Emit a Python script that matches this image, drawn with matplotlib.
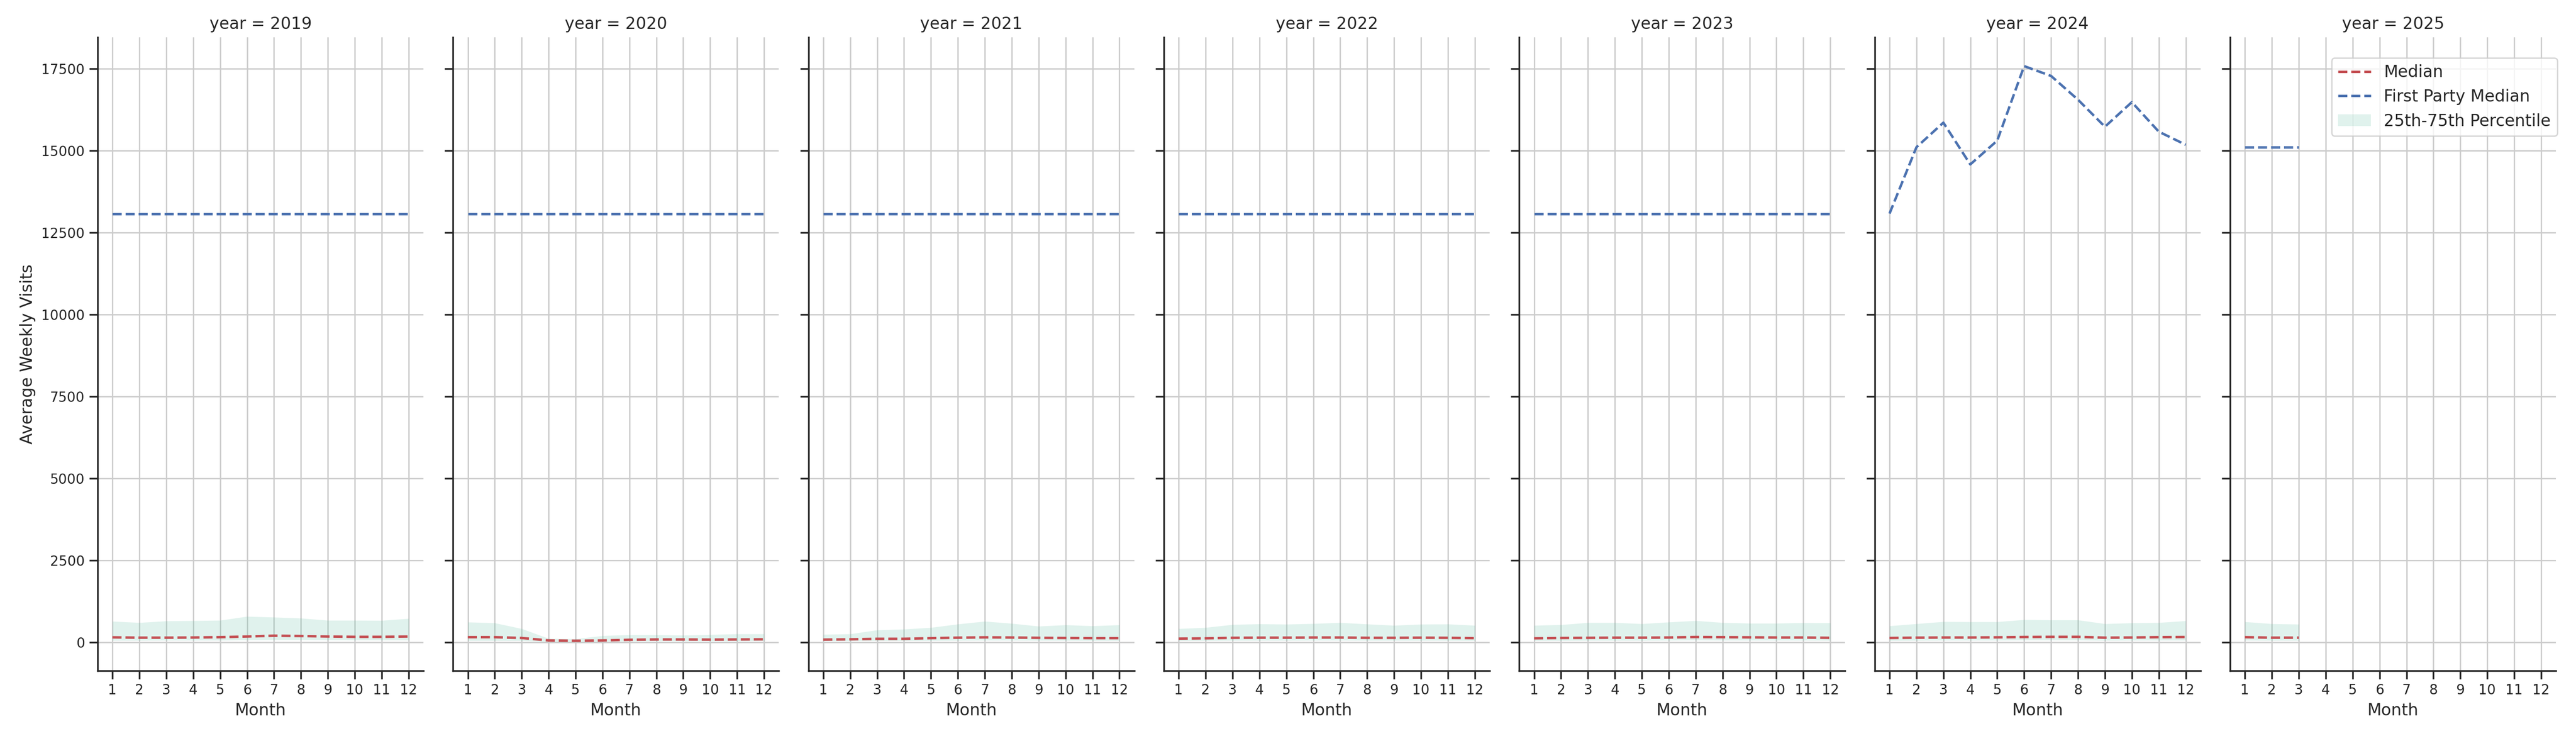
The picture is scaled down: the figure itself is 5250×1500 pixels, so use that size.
import matplotlib
matplotlib.use("Agg")
import matplotlib.pyplot as plt
import seaborn as sns
from matplotlib.lines import Line2D
from matplotlib.patches import Patch

sns.set_theme(style="ticks", context="notebook")
plt.rcParams['font.family'] = ['DejaVu Sans']

years = [2019, 2020, 2021, 2022, 2023, 2024, 2025]
months = [1, 2, 3, 4, 5, 6, 7, 8, 9, 10, 11, 12]
month_ticks = [1, 2, 3, 4, 5, 6, 7, 8, 9, 10, 11, 12]
ytick_vals = [0, 2500, 5000, 7500, 10000, 12500, 15000, 17500]

median_2019 = [145, 135, 135, 140, 150, 170, 195, 185, 170, 160, 160, 170]
median_2020 = [150, 150, 125, 50, 40, 50, 70, 80, 80, 75, 80, 85]
median_2021 = [75, 85, 100, 100, 120, 135, 145, 140, 130, 125, 120, 120]
median_2022 = [105, 115, 130, 135, 135, 140, 140, 130, 130, 135, 130, 120]
median_2023 = [115, 125, 130, 135, 135, 140, 155, 150, 145, 140, 140, 130]
median_2024 = [125, 135, 140, 140, 145, 155, 160, 160, 135, 140, 150, 155]
median_2025 = [150, 135, 135]

p75_2019 = [635, 595, 645, 655, 665, 785, 760, 730, 665, 665, 660, 720]
p75_2020 = [610, 585, 410, 110, 100, 195, 225, 225, 210, 230, 250, 250]
p75_2021 = [235, 250, 370, 395, 445, 550, 635, 570, 485, 525, 495, 525]
p75_2022 = [410, 445, 535, 555, 545, 565, 595, 550, 510, 545, 550, 510]
p75_2023 = [510, 530, 595, 595, 560, 610, 655, 595, 575, 575, 590, 585]
p75_2024 = [495, 560, 625, 620, 620, 685, 675, 675, 560, 585, 595, 650]
p75_2025 = [620, 560, 545]

p25_2019 = [50, 50, 55, 55, 55, 65, 70, 70, 65, 60, 60, 60]
p25_2020 = [45, 45, 40, 10, 5, 15, 25, 30, 30, 30, 30, 35]
p25_2021 = [30, 35, 40, 40, 45, 50, 55, 55, 50, 50, 45, 45]
p25_2022 = [40, 45, 50, 50, 50, 55, 55, 50, 50, 50, 50, 45]
p25_2023 = [45, 45, 50, 50, 50, 55, 60, 55, 55, 55, 55, 50]
p25_2024 = [45, 50, 55, 55, 55, 60, 60, 60, 50, 55, 55, 55]
p25_2025 = [55, 50, 50]

fp_2019 = [13065, 13065, 13065, 13065, 13065, 13065, 13065, 13065, 13065, 13065, 13065, 13065]
fp_2020 = [13065, 13065, 13065, 13065, 13065, 13065, 13065, 13065, 13065, 13065, 13065, 13065]
fp_2021 = [13065, 13065, 13065, 13065, 13065, 13065, 13065, 13065, 13065, 13065, 13065, 13065]
fp_2022 = [13065, 13065, 13065, 13065, 13065, 13065, 13065, 13065, 13065, 13065, 13065, 13065]
fp_2023 = [13065, 13065, 13065, 13065, 13065, 13065, 13065, 13065, 13065, 13065, 13065, 13065]
fp_2024 = [13075, 15100, 15850, 14575, 15300, 17575, 17275, 16550, 15725, 16475, 15575, 15175]
fp_2025 = [15100, 15100, 15100]

medians = [median_2019, median_2020, median_2021, median_2022, median_2023, median_2024, median_2025]
p75s = [p75_2019, p75_2020, p75_2021, p75_2022, p75_2023, p75_2024, p75_2025]
p25s = [p25_2019, p25_2020, p25_2021, p25_2022, p25_2023, p25_2024, p25_2025]
fps = [fp_2019, fp_2020, fp_2021, fp_2022, fp_2023, fp_2024, fp_2025]

RED = "#C44E52"
BLUE = "#4C72B0"
FILL = "#66c2a5"
LW = 1.8

fig, axes = plt.subplots(1, 7, figsize=(26.25, 7.5), dpi=200, sharex=True, sharey=True)
fig.subplots_adjust(left=0.0379, right=0.9922, bottom=0.0887, top=0.9493, wspace=0.091)

for ax, yr, med, lo, hi, fp in zip(axes, years, medians, p25s, p75s, fps):
    x = months[:len(med)]
    ax.fill_between(x, lo, hi, color=FILL, alpha=0.2, linewidth=0)
    ax.plot(x, med, color=RED, linestyle="--", linewidth=LW)
    ax.plot(x, fp, color=BLUE, linestyle="--", linewidth=LW)
    ax.set_title(f"year = {yr}", fontsize=12)
    ax.set_xlabel("Month", fontsize=12)
    ax.set_xticks(month_ticks)
    ax.set_yticks(ytick_vals)
    ax.tick_params(axis="both", labelsize=10)
    ax.grid(True, color="#cccccc", linewidth=1.0)
    ax.set_axisbelow(True)
    sns.despine(ax=ax)

axes[0].set_xlim(0.45, 12.55)
axes[0].set_ylabel("Average Weekly Visits", fontsize=12)

handles = [
    Line2D([0], [0], color=RED, linestyle="--", linewidth=LW),
    Line2D([0], [0], color=BLUE, linestyle="--", linewidth=LW),
    Patch(facecolor=FILL, alpha=0.2, edgecolor="none"),
]
labels = ["Median", "First Party Median", "25th-75th Percentile"]
axes[-1].legend(handles, labels, loc="upper right", bbox_to_anchor=(1.0045, 0.9675),
                borderaxespad=0, fontsize=12, frameon=True)

fig.savefig("out.png", dpi=200)
